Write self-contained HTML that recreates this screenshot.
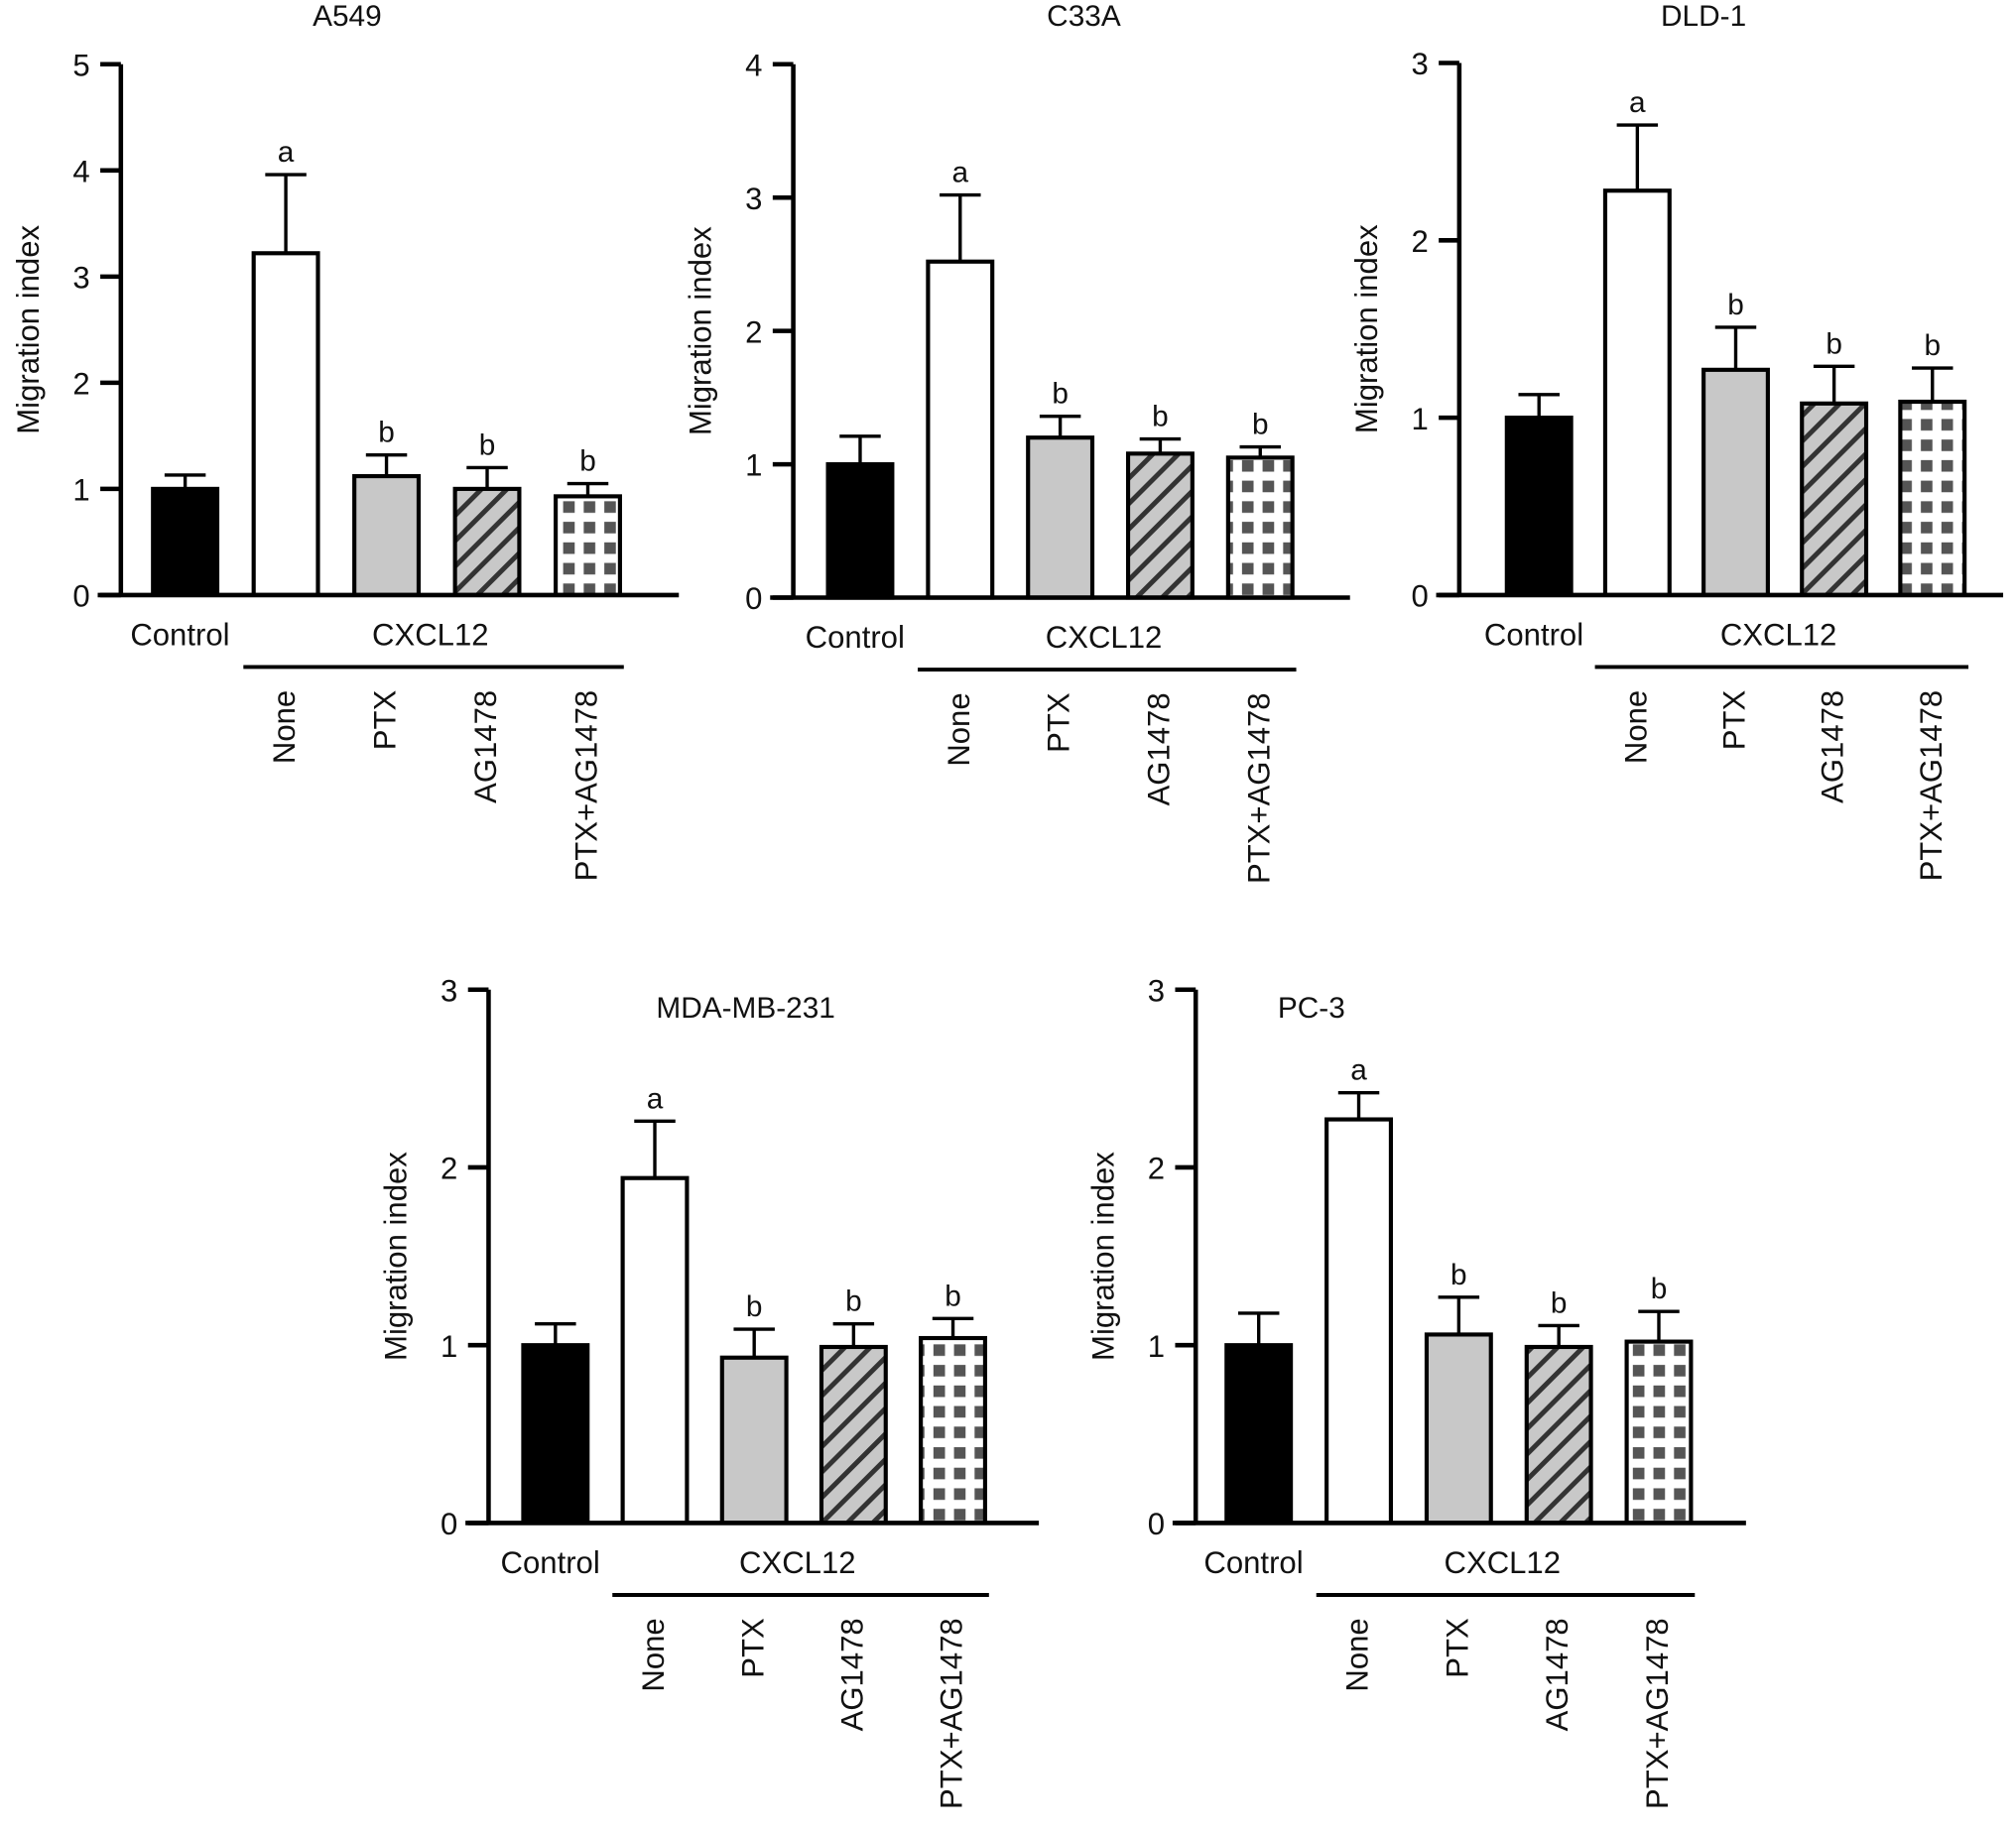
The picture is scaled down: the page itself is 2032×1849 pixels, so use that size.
<!DOCTYPE html>
<html><head><meta charset="utf-8"><style>
html,body{margin:0;padding:0;background:#fff;}
svg{display:block;font-family:"Liberation Sans",Arial,sans-serif;}
</style></head><body>
<svg id="fig" width="2032" height="1849" viewBox="0 0 1568 1427" preserveAspectRatio="none" xmlns="http://www.w3.org/2000/svg">
<defs>
<pattern id="hatch" patternUnits="userSpaceOnUse" width="14" height="14" patternTransform="rotate(45)">
<rect width="14" height="14" fill="#c8c8c8"/><rect x="0" y="0" width="3.8" height="14" fill="#333"/>
</pattern>
<pattern id="check" patternUnits="userSpaceOnUse" width="16" height="16" x="3" y="3">
<rect width="16" height="16" fill="#fff"/><rect x="3" y="3" width="9" height="9" fill="#555"/>
</pattern>
</defs>
</svg>
<script>
const categories = ["Control","None","PTX","AG1478","PTX+AG1478"];
const panelTitles = ["A549","C33A","DLD-1","MDA-MB-231","PC-3"];
const yMaxes = [5,4,3,3,3];
const valsA549 = [1.0,3.22,1.12,1.0,0.93];
const errA549 = [1.13,3.96,1.32,1.2,1.05];
const valsC33A = [1.0,2.52,1.2,1.08,1.05];
const errC33A = [1.21,3.02,1.36,1.19,1.13];
const valsDLD1 = [1.0,2.28,1.27,1.08,1.09];
const errDLD1 = [1.13,2.65,1.51,1.29,1.28];
const valsMDA = [1.0,1.94,0.93,0.99,1.04];
const errMDA = [1.12,2.26,1.09,1.12,1.15];
const valsPC3 = [1.0,2.27,1.06,0.99,1.02];
const errPC3 = [1.18,2.42,1.27,1.11,1.19];
const sigLetters = ["","a","b","b","b"];

const allVals=[valsA549,valsC33A,valsDLD1,valsMDA,valsPC3];
const allErr=[errA549,errC33A,errDLD1,errMDA,errPC3];
const layout=[
 {ax:94,y0:463,yTop:50,xEnd:528,c0:144,step:78.3,tx:270,ty:20},
 {ax:617,y0:465,yTop:50,xEnd:1050,c0:669,step:77.8,tx:843,ty:20},
 {ax:1135,y0:463,yTop:49,xEnd:1558,c0:1197,step:76.5,tx:1325,ty:20},
 {ax:380,y0:1185,yTop:770,xEnd:808,c0:432,step:77.3,tx:580,ty:792},
 {ax:930,y0:1185,yTop:770,xEnd:1358,c0:979,step:77.8,tx:1020,ty:792}
];
const fills=["#000","#fff","#c8c8c8","url(#hatch)","url(#check)"];
const NS="http://www.w3.org/2000/svg";
const svg=document.getElementById('fig');
function mk(tag,attrs,parent){const e=document.createElementNS(NS,tag);for(const k in attrs)e.setAttribute(k,attrs[k]);(parent||svg).appendChild(e);return e;}
function txt(s,attrs,parent){const e=mk('text',attrs,parent);e.textContent=s;return e;}

layout.forEach((L,p)=>{
 const g=mk('g',{});
 
 
 const ymax=yMaxes[p];
 const yS=v=>L.y0-(L.y0-L.yTop)*v/ymax;
 const xS=i=>L.c0+i*L.step;
 const bw=50;
 const t=txt(panelTitles[p],{x:L.tx,y:L.ty,'font-size':23,'text-anchor':'middle',fill:'#111'},g);
 
 
 const yl=txt('Migration index',{x:0,y:0,'font-size':24,'text-anchor':'middle',fill:'#111',transform:`translate(${L.ax-64},${(L.y0+L.yTop)/2}) rotate(-90)`},g);
 
 
 allVals[p].forEach((v,i)=>{
  const x=xS(i), yv=yS(v), ye=yS(allErr[p][i]);
  const eb=mk('path',{d:`M${x} ${yv} V${ye} M${x-16} ${ye} H${x+16}`,stroke:'#000','stroke-width':2.6,fill:'none'},g);
  
  
  const r=mk('rect',{x:x-bw/2,y:yv,width:bw,height:L.y0-yv,fill:fills[i],stroke:'#000','stroke-width':3.2},g);
  
  
  if(sigLetters[i]){
   const s=txt(sigLetters[i],{x:x,y:ye-10,'font-size':23,'text-anchor':'middle',fill:'#111'},g);
   
   
  }
 });
 const ya=mk('path',{d:`M${L.ax} ${L.yTop} V${L.y0}`,stroke:'#000','stroke-width':3.5},g);
 
 
 const xa=mk('path',{d:`M${L.ax-18} ${L.y0} H${L.xEnd}`,stroke:'#000','stroke-width':3.5},g);
 
 
 for(let k=0;k<=ymax;k++){
  const y=yS(k);
  mk('path',{d:`M${L.ax-16} ${y} H${L.ax}`,stroke:'#000','stroke-width':3.5},g);
  const tl=txt(String(k),{x:L.ax-24,y:y+9,'font-size':24,'text-anchor':'end',fill:'#111'},g);
  
  
 }
 const c=txt('Control',{x:xS(0)-4,y:L.y0+39,'font-size':24,'text-anchor':'middle',fill:'#111'},g);
 
 
 const cx=txt('CXCL12',{x:(xS(1)+xS(4))/2-5,y:L.y0+39,'font-size':24,'text-anchor':'middle',fill:'#111'},g);
 
 
 const br=mk('path',{d:`M${xS(1)-33} ${L.y0+56} H${xS(4)+28}`,stroke:'#000','stroke-width':3},g);
 
 
 for(let i=1;i<5;i++){
  const rl=txt(categories[i],{x:0,y:0,'font-size':24,'text-anchor':'end',fill:'#111',transform:`translate(${xS(i)+7},${L.y0+74}) rotate(-90)`},g);
  
  
 }
});
</script>
</body></html>
